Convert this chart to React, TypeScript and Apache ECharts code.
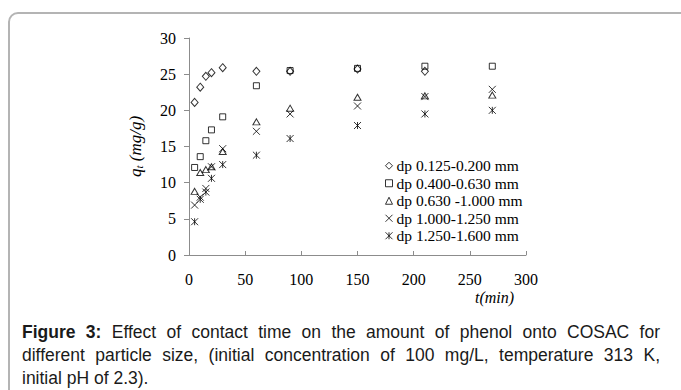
import React, { useEffect, useRef } from "react";
import * as echarts from "echarts";

const times = [5, 10, 15, 20, 30, 60, 90, 150, 210, 270];
const seriesNames = [
  "dp 0.125-0.200 mm",
  "dp 0.400-0.630 mm",
  "dp 0.630 -1.000 mm",
  "dp 1.000-1.250 mm",
  "dp 1.250-1.600 mm",
];
const dp1: (number | null)[] = [21.1, 23.2, 24.7, 25.2, 25.9, 25.4, 25.4, 25.7, 25.4, null];
const dp2: (number | null)[] = [12.1, 13.6, 15.8, 17.3, 19.1, 23.4, 25.5, 25.8, 26.1, 26.1];
const dp3: (number | null)[] = [8.8, 11.4, 11.8, 12.2, 14.3, 18.4, 20.3, 21.8, 22.0, 22.1];
const dp4: (number | null)[] = [6.9, 8.0, 9.2, 12.2, 14.7, 17.1, 19.5, 20.6, 21.9, 22.9];
const dp5: (number | null)[] = [4.6, 7.7, 8.7, 10.6, 12.5, 13.8, 16.1, 17.9, 19.5, 20.0];
const yTicks = [0, 5, 10, 15, 20, 25, 30];
const xTicks = [0, 50, 100, 150, 200, 250, 300];

const symbols = [
  "diamond",
  "rect",
  "triangle",
  "path://M0,0L10,10M10,0L0,10",
  "path://M0,0L10,10M10,0L0,10M5,0L5,10",
];
const symbolSizes: any[] = [[7, 8], 6, [7, 6], 7, [7, 7]];
const legendSizes: any[] = [[6, 7], [6, 6], [7, 6], [7, 7], [7, 7]];

function pairs(vals: (number | null)[]) {
  const out: number[][] = [];
  vals.forEach((v, i) => {
    if (v !== null) out.push([times[i], v]);
  });
  return out;
}

export default function App() {
  const ref = useRef<HTMLDivElement>(null);
  useEffect(() => {
    if (!ref.current) return;
    const chart = echarts.init(ref.current, undefined, { renderer: "svg" });
    const all = [dp1, dp2, dp3, dp4, dp5];
    const serif = "'Liberation Serif', 'Times New Roman', serif";
    chart.setOption({
      animation: false,
      backgroundColor: "transparent",
      grid: { left: 189, right: 155, top: 38, bottom: 135 },
      xAxis: {
        type: "value",
        min: xTicks[0],
        max: xTicks[xTicks.length - 1],
        interval: 50,
        axisLine: { show: true, lineStyle: { color: "#8c8c8c", width: 1 } },
        axisTick: { show: true, inside: true, length: 4, lineStyle: { color: "#8c8c8c" } },
        axisLabel: { color: "#000", fontFamily: serif, fontSize: 16, margin: 16 },
        splitLine: { show: false },
      },
      yAxis: {
        type: "value",
        min: yTicks[0],
        max: yTicks[yTicks.length - 1],
        interval: 5,
        name: "{q|q}{t|t}{r| (mg/g)}",
        nameLocation: "middle",
        nameGap: 45,
        nameTextStyle: {
          rich: {
            q: { fontFamily: serif, fontStyle: "italic", fontSize: 17, color: "#000" },
            t: { fontFamily: serif, fontStyle: "italic", fontSize: 11, color: "#000", verticalAlign: "bottom", padding: [7, 0, 0, 0] },
            r: { fontFamily: serif, fontStyle: "italic", fontSize: 17, color: "#000" },
          },
        },
        axisLine: { show: true, lineStyle: { color: "#8c8c8c", width: 1 } },
        axisTick: { show: true, inside: false, length: 5, lineStyle: { color: "#8c8c8c" } },
        axisLabel: { color: "#000", fontFamily: serif, fontSize: 16, margin: 13 },
        splitLine: { show: false },
      },
      legend: {
        orient: "vertical",
        left: 385,
        top: 157,
        itemWidth: 7,
        itemHeight: 7,
        itemGap: 0,
        padding: 0,
        textStyle: { fontFamily: serif, fontSize: 15.5, color: "#000", lineHeight: 17.5, padding: [0, 0, 0, -1] },
        data: seriesNames.map((n, i) => ({
          name: n,
          icon: symbols[i] === "rect" ? "rect" : symbols[i],
          itemStyle: { color: "#fff", borderColor: "#000", borderWidth: 1 },
        })),
      },
      graphic: [
        {
          type: "text",
          left: 475,
          top: 289,
          style: { text: "t(min)", font: "italic 16px 'Liberation Serif', serif", fill: "#000" },
        },
      ],
      series: all.map((vals, i) => ({
        name: seriesNames[i],
        type: "scatter",
        symbol: symbols[i],
        symbolSize: symbolSizes[i],
        itemStyle: { color: "transparent", borderColor: "#000", borderWidth: 1 },
        emphasis: { disabled: true },
        data: pairs(vals),
      })),
    });
    return () => chart.dispose();
  }, []);

  const cap: React.CSSProperties = {
    fontFamily: "'Liberation Sans', Arial, sans-serif",
    fontSize: 17.5,
    color: "#1a1a1a",
    lineHeight: "23px",
    height: 23,
    whiteSpace: "nowrap",
  };
  const just: React.CSSProperties = {
    ...cap,
    whiteSpace: "normal",
    textAlign: "justify",
    textAlignLast: "justify" as any,
  };

  return (
    <div style={{ position: "fixed", left: 0, top: 0, width: 681, height: 390, background: "#fff", overflow: "hidden" }}>
      <div
        style={{
          position: "absolute",
          left: 8,
          top: 12,
          width: 720,
          height: 420,
          border: "2px solid #b4b4b4",
          borderRadius: 10,
          boxSizing: "border-box",
        }}
      />
      <div ref={ref} style={{ position: "absolute", left: 0, top: 0, width: 681, height: 390 }} />
      <div style={{ position: "absolute", left: 22, top: 321, width: 638 }}>
        <div style={just}>
          <b>Figure 3:</b> Effect of contact time on the amount of phenol onto COSAC for
        </div>
        <div style={just}>
          different particle size, (initial concentration of 100 mg/L, temperature 313 K,
        </div>
        <div style={cap}>initial pH of 2.3).</div>
      </div>
    </div>
  );
}
